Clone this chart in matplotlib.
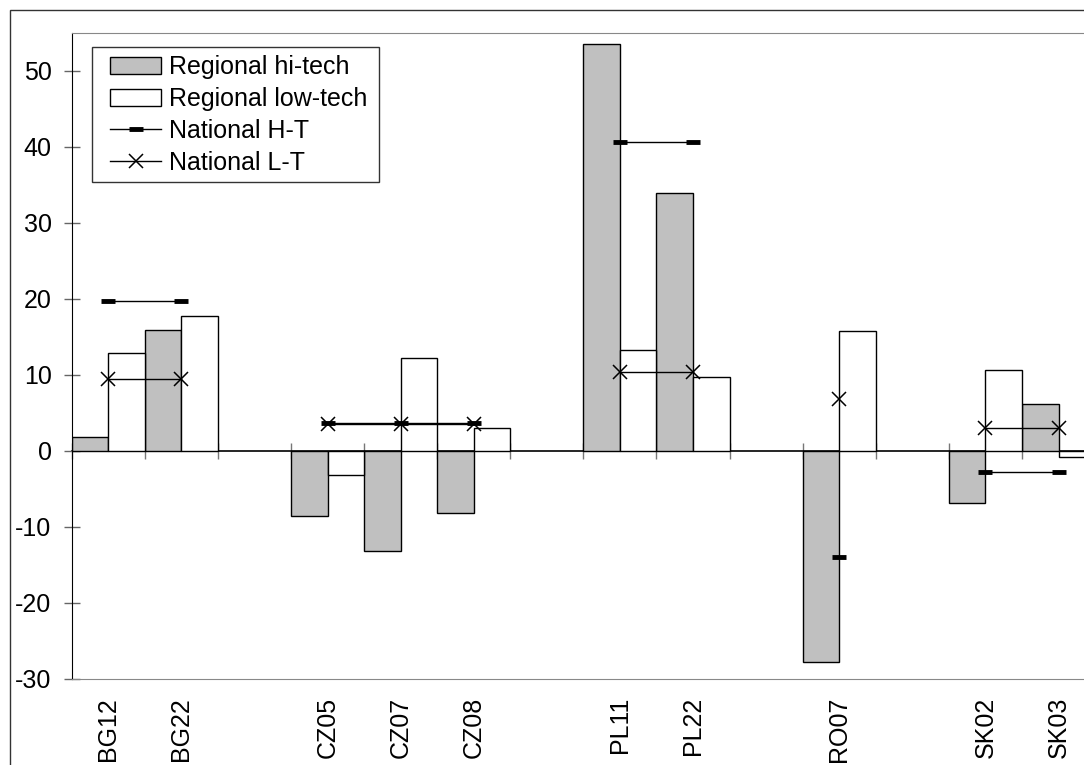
import numpy as np
import matplotlib.pyplot as plt
from matplotlib.patches import Patch, Rectangle
from matplotlib.lines import Line2D

plt.rcParams["font.family"] = ["Liberation Sans", "DejaVu Sans"]
plt.rcParams["axes.unicode_minus"] = False

nan = np.nan
regions = ["BG12", "BG22", "", "CZ05", "CZ07", "CZ08", "", "PL11", "PL22", "", "RO07", "", "SK02", "SK03"]
hi_tech = [1.8, 15.9, nan, -8.5, -13.1, -8.1, nan, 53.6, 34.0, nan, -27.7, nan, -6.9, 6.2]
low_tech = [12.9, 17.8, nan, -3.2, 12.3, 3.05, nan, 13.3, 9.7, nan, 15.8, nan, 10.7, -0.75]
nat_ht = [19.7, 19.7, nan, 3.75, 3.75, 3.75, nan, 40.6, 40.6, nan, -13.9, nan, -2.8, -2.8]
nat_lt = [9.5, 9.5, nan, 3.5, 3.5, 3.5, nan, 10.4, 10.4, nan, 6.8, nan, 3.0, 3.0]

W, H = 1084, 765
fig = plt.figure(figsize=(W / 100, H / 100), dpi=100)

# chart area border (cut off on the right and at the bottom)
fig.patches.append(Rectangle((10 / W, -0.1), 1.2, 1 - 10 / H + 0.1, transform=fig.transFigure,
                             fill=False, edgecolor="#333333", linewidth=1.0))

ax = fig.add_axes([71.7 / W, 86 / H, 1023.4 / W, 646 / H])
x = np.arange(len(regions))

ax.bar(x - 0.25, hi_tech, width=0.5, color="#c0c0c0", edgecolor="black", linewidth=1.0, zorder=2)
ax.bar(x + 0.25, low_tech, width=0.5, color="white", edgecolor="black", linewidth=1.0, zorder=2)
ax.plot(x, nat_ht, color="black", linewidth=1.0, marker="_", markersize=10, markeredgewidth=3.5, zorder=4)
ax.plot(x, nat_lt, color="black", linewidth=1.0, marker="x", markersize=9.5, markeredgewidth=1.1, zorder=4)

ax.set_xlim(-0.5, len(regions) - 0.5)
ax.set_ylim(-30, 55)
ax.set_yticks(np.arange(-30, 51, 10))
ax.tick_params(axis="y", direction="inout", length=11, width=1, color="#666666", labelsize=18, pad=9)
ax.set_xticks(x)
ax.set_xticklabels(regions, rotation=90, fontsize=18)
ax.tick_params(axis="x", length=0, pad=13)

for side in ["top", "right", "bottom"]:
    ax.spines[side].set_color("#888888")
ax.spines["left"].set_color("black")

# zero axis with tick marks between categories
zero_axis = ax.secondary_xaxis((0 - (-30)) / 85)
zero_axis.set_xticks(np.arange(-0.5, len(regions), 1.0))
zero_axis.set_xticklabels([])
zero_axis.tick_params(direction="inout", length=12, width=1, color="#777777")
zero_axis.spines["bottom"].set_color("black")
zero_axis.spines["bottom"].set_linewidth(1.2)

handles = [
    Patch(facecolor="#c0c0c0", edgecolor="black", linewidth=1.0),
    Patch(facecolor="white", edgecolor="black", linewidth=1.0),
    Line2D([], [], color="black", linewidth=1.0, marker="_", markersize=10, markeredgewidth=3.5),
    Line2D([], [], color="black", linewidth=1.0, marker="x", markersize=9.5, markeredgewidth=1.1),
]
labels = ["Regional hi-tech", "Regional low-tech", "National H-T", "National L-T"]

# legend frame as in the original (wider padding on the left)
legend_box = Rectangle((92 / W, 1 - 182 / H), 287 / W, 135 / H, transform=fig.transFigure,
                       facecolor="white", edgecolor="#333333", linewidth=1.0, zorder=5)
fig.patches.append(legend_box)
leg = fig.legend(handles, labels, loc="upper left", bbox_to_anchor=(110 / W, 1 - 55 / H),
                 fontsize=18, frameon=False, handlelength=2.05, handletextpad=0.3,
                 labelspacing=0.32, borderpad=0, borderaxespad=0)
leg.set_zorder(6)

fig.savefig("out.png", dpi=100)
